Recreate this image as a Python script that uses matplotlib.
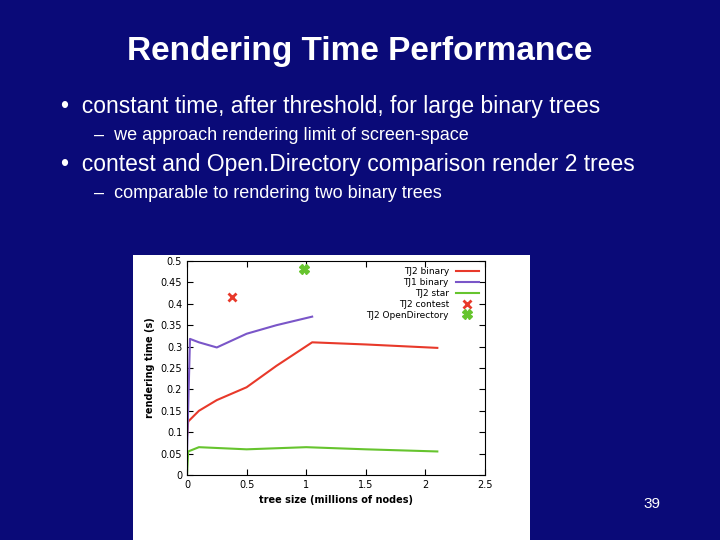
import matplotlib
matplotlib.use("Agg")
import matplotlib.pyplot as plt

tj2_x = [0, 0.01, 0.1, 0.25, 0.5, 0.75, 1.05, 1.5, 2.1]
tj2_y = [0.09, 0.125, 0.15, 0.175, 0.205, 0.255, 0.31, 0.305, 0.297]
tj1_x = [0, 0.025, 0.1, 0.25, 0.5, 0.75, 1.05]
tj1_y = [0.05, 0.318, 0.31, 0.298, 0.33, 0.35, 0.37]
star_x = [0, 0.01, 0.1, 0.5, 1.0, 1.5, 2.1]
star_y = [0.0, 0.055, 0.065, 0.06, 0.065, 0.06, 0.055]
contest = (0.38, 0.415)
opendir = (0.98, 0.482)

bg = "#0a0a78"
fig = plt.figure(figsize=(7.2, 5.4), dpi=100, facecolor=bg)
fig.text(0.5, 0.905, "Rendering Time Performance", ha="center", va="center",
         color="white", fontsize=24, fontweight="bold", family="Liberation Sans")
fs = dict(color="white", family="Liberation Sans")
fig.text(0.085, 0.803, "•  constant time, after threshold, for large binary trees", fontsize=16.5, va="center", **fs)
fig.text(0.13, 0.75, "–  we approach rendering limit of screen-space", fontsize=13, va="center", **fs)
fig.text(0.085, 0.695, "•  contest and Open.Directory comparison render 2 trees", fontsize=16.5, va="center", **fs)
fig.text(0.13, 0.642, "–  comparable to rendering two binary trees", fontsize=13, va="center", **fs)
fig.text(0.905, 0.067, "39", fontsize=11, ha="center", va="center", **fs)

panel = fig.add_axes([133/720, 0, (530-133)/720, 1-255/540], zorder=0)
panel.set_facecolor("white")
panel.set_xticks([]); panel.set_yticks([])
for s in panel.spines.values():
    s.set_visible(False)

ax = fig.add_axes([187/720, 1-475/540, (485-187)/720, (475-261)/540], zorder=2)
ax.plot(tj2_x, tj2_y, color="#e8392a", lw=1.5, label="TJ2 binary")
ax.plot(tj1_x, tj1_y, color="#7a56c8", lw=1.5, label="TJ1 binary")
ax.plot(star_x, star_y, color="#66c42e", lw=1.5, label="TJ2 star")
ax.plot([contest[0]], [contest[1]], "x", color="#e8392a", ms=6, mew=2, label="TJ2 contest", ls="none")
ax.plot([opendir[0]], [opendir[1]], "X", color="#66c42e", ms=7, label="TJ2 OpenDirectory", ls="none")
ax.set_xlim(0, 2.5)
ax.set_ylim(0, 0.5)
ax.set_xticks([0, 0.5, 1, 1.5, 2, 2.5])
ax.set_xticklabels(["0", "0.5", "1", "1.5", "2", "2.5"])
ax.set_yticks([0, 0.05, 0.1, 0.15, 0.2, 0.25, 0.3, 0.35, 0.4, 0.45, 0.5])
ax.set_yticklabels(["0", "0.05", "0.1", "0.15", "0.2", "0.25", "0.3", "0.35", "0.4", "0.45", "0.5"])
ax.tick_params(labelsize=7, direction="in", top=True, right=True, length=4)
ax.set_xlabel("tree size (millions of nodes)", fontsize=7, fontweight="bold")
ax.set_ylabel("rendering time (s)", fontsize=7, fontweight="bold")
ax.legend(loc="upper right", fontsize=6.5, frameon=False, markerfirst=False,
          handlelength=2.5, labelspacing=0.2, borderaxespad=0.3)
fig.savefig("out.png", dpi=100, facecolor=bg)
